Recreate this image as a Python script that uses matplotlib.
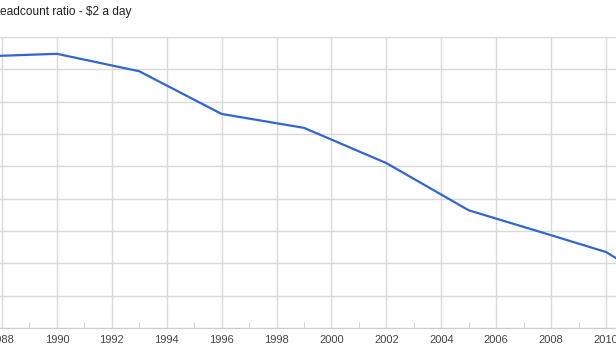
import matplotlib
matplotlib.use("Agg")
import matplotlib.pyplot as plt
import numpy as np

plt.rcParams['font.family'] = ['Liberation Sans', 'DejaVu Sans']

# Poverty headcount ratio at $2 a day (% of population)
years = [1987, 1990, 1993, 1996, 1999, 2002, 2005, 2008, 2010, 2011]
ratio = [83.9, 84.8, 79.4, 66.2, 61.9, 51.0, 36.4, 28.7, 23.5, 18.3]
tick_years = list(range(1988, 2011, 2))
title = "eadcount ratio - \\$2 a day"

fig = plt.figure(figsize=(6.16, 3.46), dpi=100)
ax = fig.add_axes([0, 18 / 346, 1, 291 / 346])

ax.plot(years, ratio, color='#3366cc', lw=1.6, solid_joinstyle='round')

ax.set_xlim(1988 - 2 / 27.45, 2010 + 10 / 27.45)
ax.set_ylim(0, 90)

ax.set_xticks(tick_years)
ax.set_xticklabels([str(y) for y in tick_years])
ax.set_xticks(range(1989, 2011, 2), minor=True)
ax.set_yticks(np.arange(0, 91, 10))
ax.set_yticklabels([])

ax.grid(True, which='major', color='#d9d9d9', lw=1)
ax.set_axisbelow(True)
for s in ['top', 'right', 'left']:
    ax.spines[s].set_visible(False)
ax.spines['bottom'].set_color('#cccccc')

ax.tick_params(axis='x', which='major', length=0, pad=5, labelsize=8, labelcolor='#444444')
ax.tick_params(axis='x', which='minor', direction='in', length=4, color='#cccccc')
ax.tick_params(axis='y', length=0)

fig.text(0, 1 - 12 / 346, title, fontsize=8.6, color='#222222', ha='left', va='center')

fig.savefig('out.png', dpi=100)
